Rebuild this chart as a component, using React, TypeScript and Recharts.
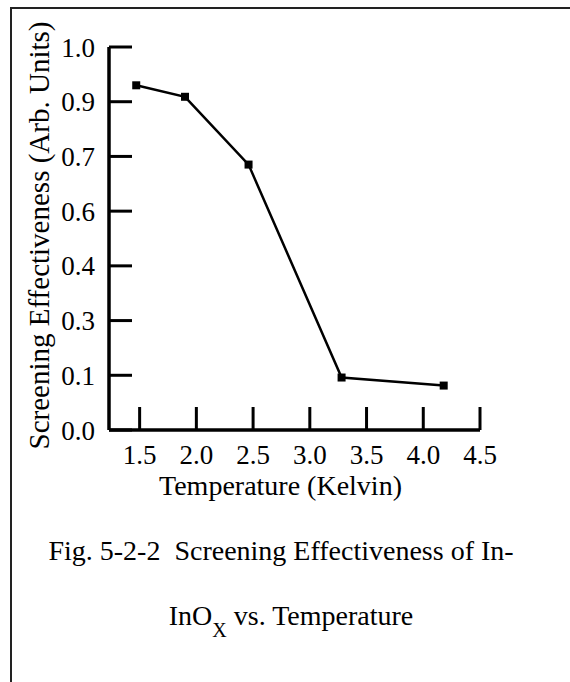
import { LineChart, Line, XAxis, YAxis, Label } from 'recharts';

const temperatures = [1.47, 1.9, 2.46, 3.28, 4.18];
const effectiveness = [0.9, 0.87, 0.693, 0.137, 0.116];

const xTicks = [1.5, 2.0, 2.5, 3.0, 3.5, 4.0, 4.5];
// eight evenly spaced marks from 0 to 1, printed to one decimal
const yTicks = [0, 1 / 7, 2 / 7, 3 / 7, 4 / 7, 5 / 7, 6 / 7, 1];

const data = temperatures.map((t, i) => ({ temp: t, value: effectiveness[i] }));

const serif = '"Liberation Serif", "Times New Roman", serif';
const tickFont = { fill: '#000', fontSize: 27, fontFamily: serif };
const axisStyle = { stroke: '#000', strokeWidth: 3.5 };
const tickStyle = { stroke: '#000', strokeWidth: 3 };

const SquareDot = (props: any) => {
    const { cx, cy, index } = props;
    return <rect key={`dot-${index}`} x={cx - 4} y={cy - 4} width={8} height={8} fill="#000" />;
};

export default function App() {
    return (
        <div style={{ position: 'absolute', left: 0, top: 0, width: 570, height: 682, background: '#fff', overflow: 'hidden' }}>
            <svg width={570} height={682} style={{ position: 'absolute', left: 0, top: 0 }}>
                <line x1={11} y1={7} x2={11} y2={682} stroke="#222" strokeWidth={2} />
                <line x1={10} y1={8} x2={570} y2={8} stroke="#222" strokeWidth={2} />
                <text x={281} y={560} textAnchor="middle" fontFamily={serif} fontSize={28} fill="#000">
                    {'Fig. 5-2-2\u00a0\u00a0Screening Effectiveness of In-'}
                </text>
                <text x={291} y={625} textAnchor="middle" fontFamily={serif} fontSize={28} fill="#000">
                    InO
                    <tspan fontSize={20} dy={12}>X</tspan>
                    <tspan dy={-12}> vs. Temperature</tspan>
                </text>
            </svg>
            <div style={{ position: 'absolute', left: 0, top: 0 }}>
                <LineChart width={570} height={520} data={data} margin={{ top: 47, right: 90, bottom: 50, left: 29 }}>
                    <XAxis
                        dataKey="temp"
                        type="number"
                        domain={[1.23, 4.5]}
                        ticks={xTicks}
                        allowDataOverflow
                        height={40}
                        axisLine={axisStyle}
                        tickLine={tickStyle}
                        tickSize={-23}
                        tickMargin={38}
                        tick={tickFont}
                        tickFormatter={(v: number) => v.toFixed(1)}
                    >
                        <Label value="Temperature (Kelvin)" position="center" dx={-14} dy={35} fill="#000" fontSize={28} fontFamily={serif} />
                    </XAxis>
                    <YAxis
                        type="number"
                        domain={[0, 1]}
                        ticks={yTicks}
                        allowDataOverflow
                        width={80}
                        axisLine={axisStyle}
                        tickLine={tickStyle}
                        tickSize={-23}
                        tickMargin={37}
                        tick={tickFont}
                        tickFormatter={(v: number) => v.toFixed(1)}
                    >
                        <Label
                            value="Screening Effectiveness (Arb. Units)"
                            position="center"
                            angle={-90}
                            dx={-30}
                            dy={-3}
                            fill="#000"
                            fontSize={29}
                            fontFamily={serif}
                        />
                    </YAxis>
                    <Line
                        type="linear"
                        dataKey="value"
                        stroke="#000"
                        strokeWidth={2.5}
                        dot={SquareDot}
                        activeDot={false}
                        isAnimationActive={false}
                    />
                </LineChart>
            </div>
        </div>
    );
}
